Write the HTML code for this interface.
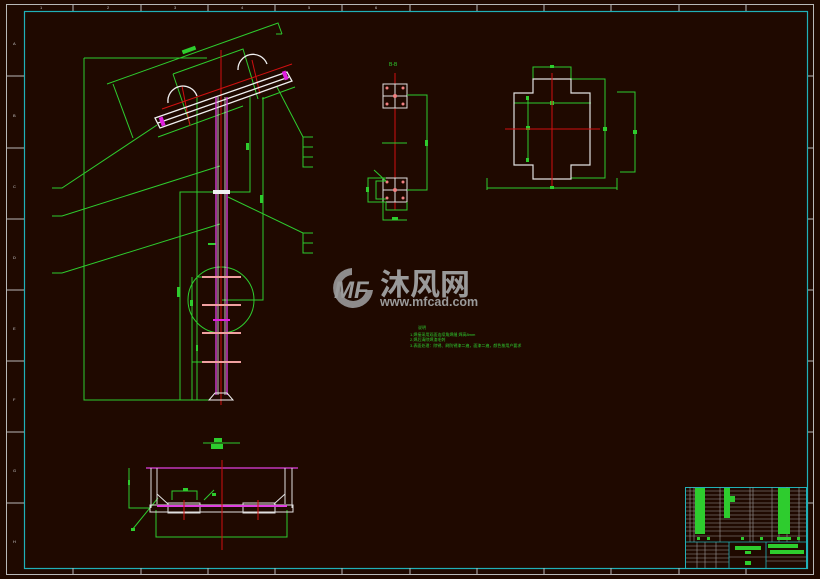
<!DOCTYPE html>
<html><head><meta charset="utf-8"><style>
html,body{margin:0;padding:0;background:#1f0900;width:820px;height:579px;overflow:hidden}
svg{display:block}
text{font-family:"Liberation Sans","Noto Sans CJK SC",sans-serif}
</style></head><body>
<svg width="820" height="579" viewBox="0 0 820 579" xmlns="http://www.w3.org/2000/svg">
<rect width="820" height="579" fill="#1f0900"/>
<!-- outer frames -->
<rect x="6.5" y="4.5" width="807" height="570" fill="none" stroke="#b8b8b8" stroke-width="1"/>
<rect x="24.5" y="11.5" width="783" height="557" fill="none" stroke="#20b0b8" stroke-width="1.2"/>
<g stroke="#b8b8b8" stroke-width="1">
<line x1="73" y1="4" x2="73" y2="11"/><line x1="141" y1="4" x2="141" y2="11"/><line x1="208" y1="4" x2="208" y2="11"/><line x1="275" y1="4" x2="275" y2="11"/><line x1="342" y1="4" x2="342" y2="11"/><line x1="410" y1="4" x2="410" y2="11"/><line x1="477" y1="4" x2="477" y2="11"/><line x1="544" y1="4" x2="544" y2="11"/><line x1="611" y1="4" x2="611" y2="11"/><line x1="679" y1="4" x2="679" y2="11"/><line x1="746" y1="4" x2="746" y2="11"/>
<line x1="73" y1="568" x2="73" y2="575"/><line x1="141" y1="568" x2="141" y2="575"/><line x1="208" y1="568" x2="208" y2="575"/><line x1="275" y1="568" x2="275" y2="575"/><line x1="342" y1="568" x2="342" y2="575"/><line x1="410" y1="568" x2="410" y2="575"/><line x1="477" y1="568" x2="477" y2="575"/><line x1="544" y1="568" x2="544" y2="575"/><line x1="611" y1="568" x2="611" y2="575"/><line x1="679" y1="568" x2="679" y2="575"/><line x1="746" y1="568" x2="746" y2="575"/>
<line x1="6" y1="76" x2="24" y2="76"/><line x1="6" y1="148" x2="24" y2="148"/><line x1="6" y1="219" x2="24" y2="219"/><line x1="6" y1="290" x2="24" y2="290"/><line x1="6" y1="361" x2="24" y2="361"/><line x1="6" y1="432" x2="24" y2="432"/><line x1="6" y1="503" x2="24" y2="503"/>
<line x1="808" y1="76" x2="813" y2="76"/><line x1="808" y1="148" x2="813" y2="148"/><line x1="808" y1="219" x2="813" y2="219"/><line x1="808" y1="290" x2="813" y2="290"/><line x1="808" y1="361" x2="813" y2="361"/><line x1="808" y1="432" x2="813" y2="432"/><line x1="808" y1="503" x2="813" y2="503"/>
</g>
<g fill="#c8c8c8" font-size="4">
<text x="13" y="45">A</text><text x="13" y="117">B</text><text x="13" y="188">C</text><text x="13" y="259">D</text><text x="13" y="330">E</text><text x="13" y="401">F</text><text x="13" y="472">G</text><text x="13" y="543">H</text>
<text x="40" y="9">1</text><text x="107" y="9">2</text><text x="174" y="9">3</text><text x="241" y="9">4</text><text x="308" y="9">5</text><text x="375" y="9">6</text>
</g>

<!-- main elevation: green dims -->
<g stroke="#2ecc2e" stroke-width="1" fill="none">
<polyline points="107,84 278,23 282,34"/>
<line x1="276" y1="34" x2="282" y2="34"/>
<polyline points="84,58 207,58"/>
<polyline points="84,58 84,400 210,400"/>
<line x1="113" y1="84" x2="133" y2="138"/>
<polyline points="173,74 243,49 258,99"/>
<line x1="173" y1="74" x2="190" y2="124"/>
<line x1="158" y1="137" x2="243" y2="106"/>
<line x1="262" y1="99" x2="295" y2="87"/>
<polyline points="197,97 197,400"/>
<polyline points="250,97 250,192 180,192 180,400"/>
<polyline points="263,97 263,300 222,300"/>
<polyline points="192,277 192,400"/>
<line x1="192" y1="362" x2="202" y2="362"/>
<line x1="198" y1="277" x2="205" y2="277"/>
<polyline points="52,188 62,188 157,125"/>
<polyline points="52,216 62,216 220,166"/>
<polyline points="52,273 62,273 220,224"/>
<polyline points="277,87 303,137 313,137"/>
<polyline points="303,137 303,167 313,167"/>
<line x1="303" y1="147" x2="313" y2="147"/><line x1="303" y1="157" x2="313" y2="157"/>
<polyline points="228,197 303,233 313,233"/>
<polyline points="303,233 303,253 313,253"/>
<line x1="303" y1="243" x2="313" y2="243"/>
<circle cx="221" cy="300" r="33"/>
</g>
<g fill="#2ecc2e">
<rect x="182" y="48" width="14" height="4" transform="rotate(-20 189 50)"/>
<rect x="246" y="143" width="3" height="7"/><rect x="260" y="195" width="3" height="8"/>
<rect x="208" y="243" width="8" height="2"/><rect x="177" y="287" width="3" height="10"/>
<rect x="196" y="345" width="2" height="6"/><rect x="190" y="300" width="3" height="6"/>
</g>
<!-- red centerlines -->
<g stroke="#d01010" stroke-width="1">
<line x1="221" y1="50" x2="221" y2="405"/>
<line x1="162" y1="109" x2="292" y2="64"/>
<line x1="182" y1="86" x2="190" y2="126"/>
<line x1="252" y1="60" x2="260" y2="94"/>
</g>
<!-- beam -->
<g stroke="#f0f0f0" stroke-width="1.3" fill="none">
<polygon points="155,118 287,72 292,81 160,128"/>
<line x1="158" y1="123" x2="289" y2="77"/>
<path d="M168,103 A15,15 0 0 1 197,96"/>
<path d="M238,70 A15,15 0 0 1 267,64"/>
</g>
<g fill="#e020e0">
<rect x="160" y="117" width="4" height="9" transform="rotate(-20 162 121)"/>
<rect x="283" y="71" width="4" height="9" transform="rotate(-20 285 75)"/>
</g>
<!-- pole -->
<g stroke="#e040e0" stroke-width="1.3">
<line x1="216" y1="97" x2="216" y2="395"/><line x1="227" y1="97" x2="227" y2="395"/>
</g>
<g stroke="#f0f0f0" stroke-width="0.8">
<line x1="218" y1="97" x2="218" y2="395"/><line x1="225" y1="97" x2="225" y2="395"/>
</g>
<rect x="213" y="190" width="17" height="4" fill="#f0f0f0"/>
<g fill="#f0a0a0">
<rect x="202" y="276" width="39" height="2"/><rect x="202" y="304" width="39" height="2"/><rect x="202" y="332" width="39" height="2"/><rect x="202" y="361" width="39" height="2"/>
</g>
<rect x="213" y="319" width="17" height="2" fill="#e020e0"/>
<polygon points="209,400 233,400 227,393 215,393" fill="none" stroke="#f0f0f0" stroke-width="1"/>

<!-- section B-B -->
<text x="389" y="66" font-size="5" fill="#2ecc2e">B-B</text>
<line x1="395" y1="73" x2="395" y2="210" stroke="#d01010"/>
<g stroke="#e0e0e0" stroke-width="1" fill="none">
<rect x="383" y="84" width="24" height="24"/><line x1="383" y1="96" x2="407" y2="96"/><line x1="395" y1="84" x2="395" y2="108"/>
<rect x="383" y="178" width="24" height="24"/><line x1="383" y1="190" x2="407" y2="190"/><line x1="395" y1="178" x2="395" y2="202"/>
</g>
<g fill="#f08080"><circle cx="387" cy="88" r="1.5"/><circle cx="403" cy="88" r="1.5"/><circle cx="387" cy="104" r="1.5"/><circle cx="403" cy="104" r="1.5"/><circle cx="395" cy="96" r="2"/>
<circle cx="387" cy="182" r="1.5"/><circle cx="403" cy="182" r="1.5"/><circle cx="387" cy="198" r="1.5"/><circle cx="403" cy="198" r="1.5"/><circle cx="395" cy="190" r="2"/></g>
<g stroke="#2ecc2e" stroke-width="1" fill="none">
<polyline points="407,95 427,95 427,190 407,190"/>
<line x1="382" y1="143" x2="407" y2="143"/>
<polyline points="386,178 368,178 368,202 386,202"/>
<polyline points="386,181 376,181 376,199 386,199"/>
<polyline points="386,202 386,210 407,210 407,202"/>
<polyline points="383,202 383,220 407,220"/>
<line x1="374" y1="170" x2="386" y2="181"/>
</g>
<g fill="#2ecc2e"><rect x="425" y="140" width="3" height="6"/><rect x="366" y="187" width="3" height="5"/><rect x="392" y="217" width="6" height="3"/></g>

<!-- cross plate -->
<g stroke="#2ecc2e" stroke-width="1" fill="none">
<polyline points="533,79 533,67 571,67 571,79"/>
<line x1="514" y1="103" x2="591" y2="103"/>
<line x1="528" y1="96" x2="528" y2="162"/>
<polyline points="571,79 605,79 605,178 571,178"/>
<polyline points="617,92 635,92 635,172 620,172"/>
<line x1="487" y1="188" x2="617" y2="188"/>
<line x1="487" y1="178" x2="487" y2="190"/><line x1="617" y1="178" x2="617" y2="190"/>
</g>
<g fill="#2ecc2e"><rect x="550" y="65" width="4" height="3"/><rect x="550" y="101" width="4" height="4"/><rect x="526" y="126" width="4" height="4"/><rect x="603" y="127" width="4" height="4"/><rect x="633" y="130" width="4" height="4"/><rect x="550" y="186" width="4" height="3"/><rect x="526" y="96" width="3" height="4"/><rect x="526" y="158" width="3" height="4"/></g>
<polygon points="533,79 571,79 571,93 590,93 590,165 571,165 571,179 533,179 533,165 514,165 514,93 533,93" fill="none" stroke="#e0e0e0" stroke-width="1.2"/>
<g stroke="#d01010"><line x1="552" y1="73" x2="552" y2="186"/><line x1="505" y1="129" x2="600" y2="129"/></g>

<!-- watermark -->
<g fill="#9a9a9a">
<path d="M352,268 A20,20 0 1 0 373,290 L366,290 A13,13 0 1 1 352,275 Z" opacity="0.9"/>
<text x="334" y="298" font-size="24" font-weight="bold" font-style="italic">MF</text>
<text x="380" y="295" font-size="30" font-weight="bold" font-family="'Noto Sans CJK SC',sans-serif">沐风网</text>
<text x="380" y="306" font-size="12.5" font-weight="bold">www.mfcad.com</text>
</g>
<!-- notes -->
<g fill="#2ecc2e" font-size="4">
<text x="418" y="329">说明</text>
<text x="410" y="336">1.焊接采用双面连续角焊缝 焊高8mm</text>
<text x="410" y="341">2.焊后清除焊渣毛刺</text>
<text x="410" y="347">3.表面处理：除锈、刷防锈漆二遍，面漆二遍，颜色按用户要求</text>
</g>

<!-- bottom view -->
<g stroke="#2ecc2e" stroke-width="1" fill="none">
<line x1="203" y1="443" x2="240" y2="443"/>
<polyline points="129,468 129,508 150,508"/>
<polyline points="156,510 156,537 287,537 287,510"/>
<polyline points="172,500 172,491 197,491 197,500"/>
<line x1="132" y1="530" x2="158" y2="498"/>
<line x1="204" y1="500" x2="214" y2="490"/>
</g>
<g fill="#2ecc2e"><rect x="214" y="438" width="8" height="4"/><rect x="211" y="444" width="12" height="5"/><rect x="183" y="488" width="5" height="3"/><rect x="128" y="480" width="2" height="5"/><rect x="131" y="528" width="4" height="3"/><rect x="212" y="493" width="4" height="3"/></g>
<line x1="146" y1="468" x2="298" y2="468" stroke="#e040e0" stroke-width="1.3"/>
<g stroke="#e0e0e0" stroke-width="1" fill="none">
<line x1="151" y1="468" x2="151" y2="508"/><line x1="292" y1="468" x2="292" y2="508"/>
<line x1="157" y1="468" x2="157" y2="504"/><line x1="285" y1="468" x2="285" y2="504"/>
<rect x="150" y="505" width="143" height="7"/>
<rect x="168" y="503" width="32" height="10"/><rect x="243" y="503" width="32" height="10"/>
<line x1="157" y1="494" x2="168" y2="504"/><line x1="285" y1="494" x2="274" y2="504"/>
</g>
<rect x="157" y="505" width="130" height="2" fill="#e040e0"/>
<g stroke="#d01010"><line x1="222" y1="460" x2="222" y2="550"/><line x1="184" y1="500" x2="184" y2="520"/><line x1="258" y1="500" x2="258" y2="520"/></g>

<!-- title block -->
<rect x="685.5" y="487.5" width="121" height="81" fill="none" stroke="#20b0b8"/>
<g stroke="#9a9a9a" stroke-width="0.6">
<line x1="686" y1="491" x2="806" y2="491"/><line x1="686" y1="495" x2="806" y2="495"/><line x1="686" y1="499" x2="806" y2="499"/><line x1="686" y1="503" x2="806" y2="503"/><line x1="686" y1="507" x2="806" y2="507"/><line x1="686" y1="511" x2="806" y2="511"/><line x1="686" y1="515" x2="806" y2="515"/><line x1="686" y1="519" x2="806" y2="519"/><line x1="686" y1="523" x2="806" y2="523"/><line x1="686" y1="527" x2="806" y2="527"/><line x1="686" y1="531" x2="806" y2="531"/><line x1="686" y1="536" x2="806" y2="536"/>
<line x1="690" y1="487" x2="690" y2="542"/><line x1="694" y1="487" x2="694" y2="542"/><line x1="720" y1="487" x2="720" y2="542"/><line x1="750" y1="487" x2="750" y2="542"/><line x1="753" y1="487" x2="753" y2="542"/><line x1="772" y1="487" x2="772" y2="542"/><line x1="779" y1="487" x2="779" y2="542"/><line x1="787" y1="487" x2="787" y2="542"/><line x1="799" y1="487" x2="799" y2="542"/>
<line x1="686" y1="546" x2="729" y2="546"/><line x1="686" y1="550" x2="729" y2="550"/><line x1="686" y1="554" x2="729" y2="554"/><line x1="686" y1="558" x2="729" y2="558"/><line x1="686" y1="562" x2="729" y2="562"/>
<line x1="697" y1="542" x2="697" y2="568"/><line x1="705" y1="542" x2="705" y2="568"/><line x1="716" y1="542" x2="716" y2="568"/>
<line x1="766" y1="557" x2="806" y2="557"/><line x1="766" y1="561" x2="806" y2="561"/>
<line x1="729" y1="557" x2="766" y2="557"/>
</g>
<g stroke="#20b0b8" stroke-width="0.8">
<line x1="686" y1="542" x2="806" y2="542"/><line x1="729" y1="542" x2="729" y2="568"/><line x1="766" y1="542" x2="766" y2="568"/>
</g>
<g fill="#2ecc2e">
<rect x="695" y="488" width="10" height="46"/><rect x="724" y="488" width="6" height="30"/><rect x="730" y="496" width="5" height="6"/><rect x="778" y="488" width="12" height="46"/><rect x="735" y="546" width="26" height="4"/><rect x="745" y="551" width="6" height="3"/><rect x="768" y="544" width="30" height="4"/><rect x="770" y="550" width="34" height="4"/><rect x="745" y="561" width="6" height="4"/>
<rect x="697" y="537" width="3" height="3"/><rect x="707" y="537" width="3" height="3"/><rect x="741" y="537" width="3" height="3"/><rect x="760" y="537" width="3" height="3"/><rect x="777" y="537" width="14" height="3"/><rect x="797" y="537" width="3" height="3"/>
</g>
</svg>
</body></html>
